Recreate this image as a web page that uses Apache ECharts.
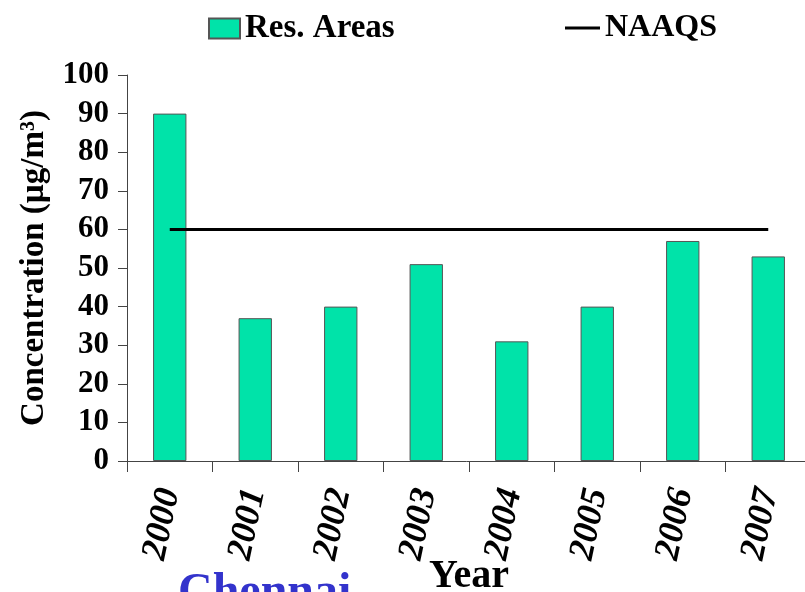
<!DOCTYPE html>
<html>
<head>
<meta charset="utf-8">
<script src="https://cdn.jsdelivr.net/npm/echarts@6/dist/echarts.min.js"></script>
<style>
  html, body { margin: 0; padding: 0; background: #fff; }
  #chart { width: 805px; height: 592px; }
</style>
</head>
<body>
<div id="chart"></div>
<script>
  var years = ['2000', '2001', '2002', '2003', '2004', '2005', '2006', '2007'];
  var resAreas = [90, 37, 40, 51, 31, 40, 57, 53];
  var naaqs = [60, 60, 60, 60, 60, 60, 60, 60];

  var serif = '"Liberation Serif", "Times New Roman", serif';
  var chart = echarts.init(document.getElementById('chart'));

  var option = {
    backgroundColor: '#fff',
    animation: false,
    legend: [
      {
        left: 203, top: 7,
        itemWidth: 31, itemHeight: 20, itemGap: 10,
        data: [{ name: 'Res. Areas', icon: 'rect' }],
        textStyle: { fontFamily: serif, fontWeight: 'bold', fontSize: 33, color: '#000' }
      },
      {
        left: 560, top: 7,
        itemWidth: 35, itemHeight: 3, itemGap: 6,
        data: [{ name: 'NAAQS', icon: 'rect' }],
        textStyle: { fontFamily: serif, fontWeight: 'bold', fontSize: 32, color: '#000' }
      }
    ],
    grid: { left: 127, right: -6, top: 75, bottom: 131, containLabel: false, outerBoundsMode: 'none' },
    xAxis: {
      type: 'category',
      data: years,
      name: 'Year',
      nameLocation: 'middle',
      nameGap: 96,
      nameMoveOverlap: false,
      nameTextStyle: { fontFamily: serif, fontWeight: 'bold', fontSize: 40, color: '#000' },
      axisLine: { lineStyle: { color: '#444', width: 1 } },
      axisTick: { show: true, length: 11, lineStyle: { color: '#444' } },
      axisLabel: {
        rotate: 78,
        margin: 28,
        fontFamily: serif, fontWeight: 'bold', fontStyle: 'italic', fontSize: 36, color: '#000'
      }
    },
    yAxis: {
      type: 'value',
      min: 0, max: 100, interval: 10,
      name: 'Concentration (µg/m³)',
      nameLocation: 'middle',
      nameGap: 76,
      nameMoveOverlap: false,
      nameTextStyle: { fontFamily: serif, fontWeight: 'bold', fontSize: 33, color: '#000' },
      axisLine: { show: true, lineStyle: { color: '#444', width: 1 } },
      axisTick: { show: true, length: 9, lineStyle: { color: '#444' } },
      splitLine: { show: false },
      axisLabel: {
        margin: 18,
        fontFamily: serif, fontWeight: 'bold', fontSize: 31, color: '#000'
      }
    },
    series: [
      {
        name: 'Res. Areas',
        type: 'bar',
        data: resAreas,
        barWidth: '39%',
        itemStyle: { color: '#00e3a9', borderColor: '#555', borderWidth: 1 }
      },
      {
        name: 'NAAQS',
        type: 'line',
        data: naaqs,
        symbol: 'none',
        lineStyle: { color: '#000', width: 3 },
        itemStyle: { color: '#000' }
      }
    ],
    graphic: [
      {
        type: 'text',
        left: 178, top: 570,
        style: {
          text: 'Chennai',
          fontFamily: serif, fontWeight: 'bold', fontSize: 48,
          fill: '#3333cc'
        }
      }
    ]
  };

  chart.setOption(option);
</script>
</body>
</html>
